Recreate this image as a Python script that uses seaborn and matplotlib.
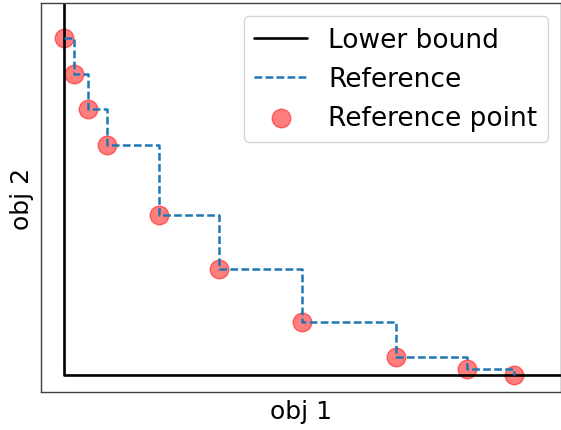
import matplotlib
matplotlib.use("Agg")
import matplotlib.pyplot as plt
import seaborn as sns
import pandas as pd

# Reference front (objective values of the reference points)
obj1 = [0.0, 0.022, 0.054, 0.096, 0.212, 0.344, 0.528, 0.738, 0.896, 1.0]
obj2 = [1.0, 0.893, 0.790, 0.684, 0.475, 0.316, 0.158, 0.053, 0.017, 0.0]

# Lower bound: ideal corner extended past the visible range
lb_obj1 = [0.0, 0.0, 1.5]
lb_obj2 = [1.5, 0.0, 0.0]

x_lim = (-0.051, 1.104)
y_lim = (-0.050, 1.105)

sns.set_style("white")
plt.rcParams["font.family"] = ["DejaVu Sans"]
plt.rcParams["text.color"] = "black"
plt.rcParams["axes.labelcolor"] = "black"

df = pd.DataFrame({"obj 1": obj1, "obj 2": obj2})
lb = pd.DataFrame({"obj 1": lb_obj1, "obj 2": lb_obj2})

fig = plt.figure(figsize=(5.61, 4.31), dpi=100)
ax = fig.add_axes([41 / 561, 38 / 431, 520 / 561, 389 / 431])

sns.lineplot(data=lb, x="obj 1", y="obj 2", sort=False, estimator=None,
             color="black", linewidth=1.9, label="Lower bound", ax=ax,
             zorder=2)
sns.lineplot(data=df, x="obj 1", y="obj 2", sort=False, estimator=None,
             color="#1f77b4", linewidth=1.8, dashes=False,
             drawstyle="steps-post", label="Reference", ax=ax, zorder=2)
ax.lines[-1].set_dashes((3.08, 1.33))
# points sit beneath the lines
sns.scatterplot(data=df, x="obj 1", y="obj 2", color="red", alpha=0.5,
                s=180, linewidth=1, edgecolor="red",
                label="Reference point", ax=ax, zorder=1)

ax.set_xlim(*x_lim)
ax.set_ylim(*y_lim)
ax.set_xticks([])
ax.set_yticks([])
ax.set_xlabel("obj 1", fontsize=18, labelpad=5)
ax.set_ylabel("obj 2", fontsize=18, labelpad=5)
for sp in ax.spines.values():
    sp.set_linewidth(1.0)
    sp.set_color("0.25")

ax.legend(loc="upper right", fontsize=19, frameon=True)

fig.savefig("out.png", dpi=100)
